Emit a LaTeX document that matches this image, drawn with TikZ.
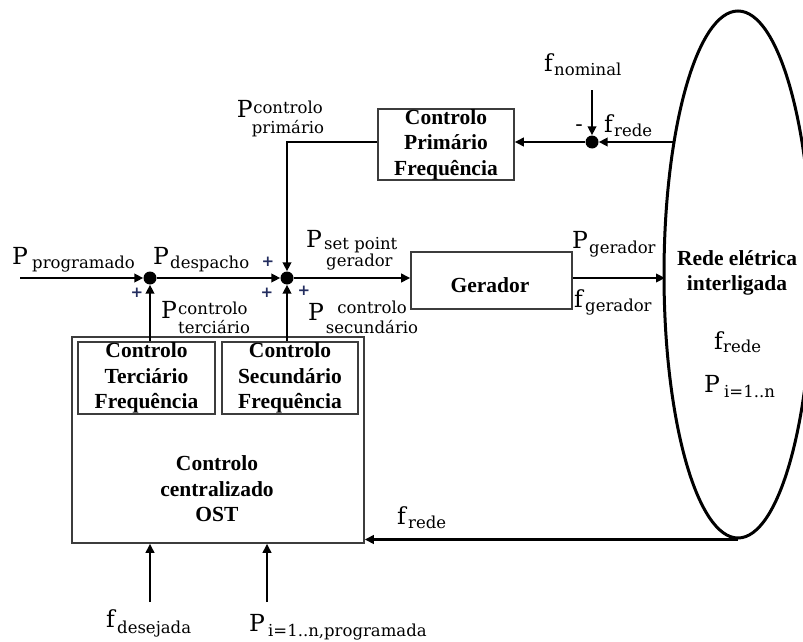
\documentclass[tikz,border=0pt]{standalone}
\usepackage{fontspec}
\setmainfont{DejaVu Serif}
\newfontfamily\tnr{Liberation Serif}
\newfontfamily\dvs{DejaVu Sans}
\usetikzlibrary{arrows.meta,shapes.geometric}
\definecolor{boxgray}{RGB}{60,60,60}
\definecolor{plusblue}{RGB}{35,45,95}
\newcommand\mainsz{\fontsize{23.5}{23.5}\selectfont}
\newcommand\subsz{\fontsize{16.5}{17.5}\selectfont}
\newcommand\boxsz{\tnr\bfseries\fontsize{21.5}{25.5}\selectfont}
\newcommand\twol[4]{{\fontsize{16.5}{#1}\selectfont\begin{tabular}[t]{@{}#2@{}}#3\\#4\end{tabular}}}
\begin{document}
\begin{tikzpicture}[x=1pt,y=-1pt,
  arr/.style={line width=2.8pt,-{Triangle[length=9pt,width=8.5pt]}},
  blk/.style={draw=boxgray,line width=1.6pt,rectangle,inner sep=0pt,align=center,font=\boxsz},
  btxt/.style={inner sep=0pt,align=center,font=\boxsz},
  jdot/.style={circle,fill=black,inner sep=0pt,minimum size=13pt},
  big/.style={inner sep=0pt,anchor=base west,font=\mainsz},
  bigr/.style={inner sep=0pt,anchor=base east,font=\mainsz},
  sub/.style={inner sep=0pt,anchor=base west,font=\subsz},
  subc/.style={inner sep=0pt,anchor=base},
  subw/.style={inner sep=0pt,anchor=base west},
  plus/.style={inner sep=0pt,text=plusblue,font=\dvs\bfseries\fontsize{15}{15}\selectfont},
  ]
\useasboundingbox (0,0) rectangle (803,642);

% blocks
\node[blk,minimum width=136pt,minimum height=71pt] (prim) at (446,144.5) {Controlo\\Primário\\Frequência};
\node[blk,minimum width=161pt,minimum height=57pt] (ger) at (491.5,280.5) {};
\node[btxt,anchor=base] (gert) at (490,292) {Gerador};
\node[blk,minimum width=292pt,minimum height=206pt] (ost) at (218,440) {};
\node[blk,minimum width=137pt,minimum height=72pt] (terc) at (146.5,378) {Controlo\\Terciário\\Frequência};
\node[blk,minimum width=136pt,minimum height=72pt] (sec) at (290,378) {Controlo\\Secundário\\Frequência};
\node[btxt] (ostt) at (217,489) {Controlo\\centralizado\\OST};

% network ellipse
\node[ellipse,draw,line width=3pt,minimum width=148pt,minimum height=527pt,inner sep=0pt] (ell) at (738,274.5) {};
\node[btxt,anchor=base] (rede1) at (737,265) {Rede elétrica};
\node[btxt,anchor=base] (rede2) at (737,290) {interligada};
\node[big] (efr) at (714,349) {f};
\node[sub] (efrs) at (723,352) {rede};
\node[big] (ePi) at (704,392) {P};
\node[sub] (ePis) at (724,397) {i=1..n};

% junctions
\node[jdot] (j1) at (150,278) {};
\node[jdot] (j2) at (287,278) {};
\node[jdot] (j3) at (592,142) {};

% free ends
\coordinate (in0) at (20,278);
\coordinate (eG) at (665,278);
\coordinate (e1) at (674,142);
\coordinate (fn) at (592,90);
\coordinate (b1) at (150,602);
\coordinate (b2) at (267,602);

% connectors
\draw[arr] (in0) -- (j1);
\draw[arr] (j1) -- (j2);
\draw[arr] (j2) -- (j2 -| ger.west);
\draw[arr] (ger.east |- j2) -- (eG);
\draw[arr] (e1) -- (j3);
\draw[arr] (fn) -- (j3);
\draw[arr] (j3) -- (j3 -| prim.east);
\draw[arr] (j3 -| prim.west) -| (j2);
\draw[arr] (terc.north -| j1) -- (j1);
\draw[arr] (sec.north -| j2) -- (j2);
\draw[arr] (ell.south) -- (ell.south -| ost.east);
\draw[arr] (b1) -- (b1 |- ost.south);
\draw[arr] (b2) -- (b2 |- ost.south);

% labels
\node[big] (Pprog) at (12,264) {P};
\node[sub] (Pprogs) at (32,268) {programado};
\node[big] (Pdesp) at (153,264) {P};
\node[sub] (Pdesps) at (170,268) {despacho};
\node[big] (Pset) at (306,247) {P};
\node[subw] (Psets) at (324,249) {\twol{16}{l}{set point}{\hspace*{2pt}gerador}};
\node[big] (Pter) at (161,318) {P};
\node[subw] (Pters) at (178,314) {\twol{19.5}{l}{controlo}{terciário}};
\node[big] (Psec) at (308,320) {P};
\node[subc] (Psecs) at (372,313) {\twol{20}{c}{controlo}{secundário}};
\node[bigr] (Ppri) at (253,117) {P};
\node[subc] (Ppris) at (288,113) {\twol{20.5}{c}{controlo}{primário}};
\node[big] (Pger) at (572,248) {P};
\node[sub] (Pgers) at (589,253) {gerador};
\node[big] (fger) at (574,307) {f};
\node[sub] (fgers) at (585,311) {gerador};
\node[big] (fnom) at (544,72) {f};
\node[sub] (fnoms) at (554,76) {nominal};
\node[inner sep=0pt,font=\fontsize{22}{22}\selectfont] (minus) at (579,128) {-};
\node[big] (fr1) at (604,132) {f};
\node[sub] (fr1s) at (614,136) {rede};
\node[big] (fr2) at (397,524) {f};
\node[sub] (fr2s) at (408,528) {rede};
\node[big] (fdes) at (106,627) {f};
\node[sub] (fdess) at (117,633) {desejada};
\node[big] (Pprg) at (249,631) {P};
\node[sub] (Pprgs) at (268,636) {i=1..n,programada};

% signs
\node[plus] (pl1) at (268,262) {+};
\node[plus] (pl2) at (137,293) {+};
\node[plus] (pl3) at (267,293) {+};
\node[plus] (pl4) at (304,291) {+};
\end{tikzpicture}
\end{document}
